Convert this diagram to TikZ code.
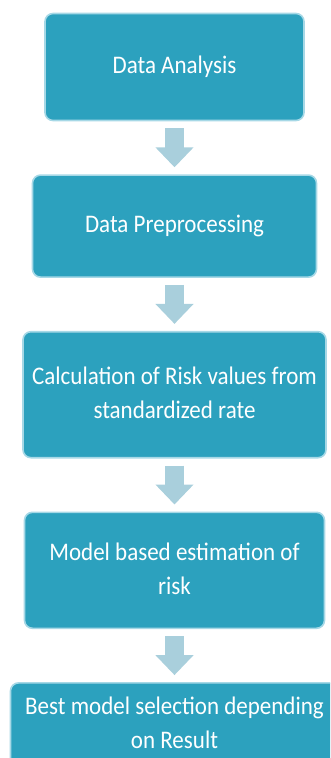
\documentclass[tikz,border=0pt]{standalone}
\usepackage{fontspec}
\setmainfont{Carlito}
\usepackage{graphicx}
\usepackage{tikz}
\usetikzlibrary{positioning,arrows.meta}
\definecolor{boxteal}{HTML}{2CA1BE}
\definecolor{boxedge}{HTML}{A6D8E6}
\definecolor{flowblue}{HTML}{A9CFDC}
% stretched label text, lines centred
\newcommand{\steptext}[1]{\scalebox{1}[1.1]{\begin{tabular}{@{}c@{}}#1\end{tabular}}}

\begin{document}
\begin{tikzpicture}[
  node distance=53pt,
  stage/.style={rectangle,rounded corners=8pt,draw=boxedge,line width=1.6pt,fill=boxteal,
                text=white,align=center,inner sep=0pt,font=\fontsize{23}{31}\selectfont},
  flow/.style={-{Triangle[length=20pt,width=37pt]},line width=19pt,flowblue,
               shorten <=7pt,shorten >=7pt}
]
\clip (0,0) rectangle (330pt,-758pt);
\useasboundingbox (0,0) rectangle (330pt,-758pt);
\node[stage,minimum width=259pt,minimum height=107pt] (ana) at (174.5pt,-67pt) {\steptext{Data Analysis}};
\node[stage,below=of ana,minimum width=284pt,minimum height=102pt] (pre) {\steptext{Data Preprocessing}};
\node[stage,below=of pre,minimum width=303pt,minimum height=126pt] (calc)
  {\steptext{Calculation of Risk values from\\ standardized rate}};
\node[stage,below=of calc,minimum width=300pt,minimum height=116pt] (est)
  {\steptext{Model based estimation of\\ risk}};
\node[stage,below=of est,minimum width=328pt,minimum height=84pt] (best)
  {\steptext{Best model selection depending\\ on Result}};
\draw[flow] (ana)--(pre);
\draw[flow] (pre)--(calc);
\draw[flow] (calc)--(est);
\draw[flow] (est)--(best);
\end{tikzpicture}
\end{document}
